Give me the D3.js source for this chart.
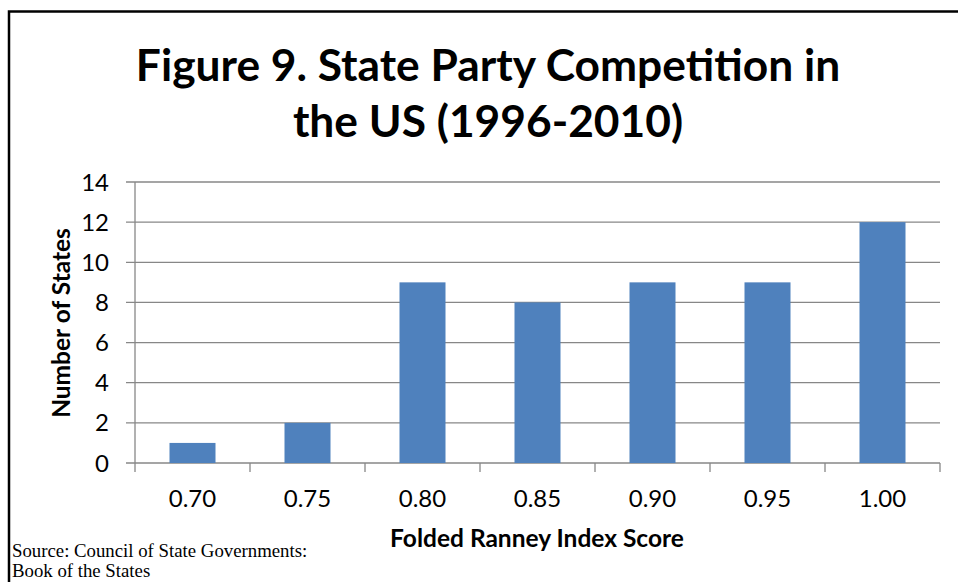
<!DOCTYPE html>
<html><head><meta charset="utf-8">
<script src="https://cdn.jsdelivr.net/npm/d3@7"></script>
<style>body{margin:0;background:#fff}svg{display:block}</style>
</head><body>
<svg id="c" width="958" height="582"></svg>
<script>
const categories = ["0.70","0.75","0.80","0.85","0.90","0.95","1.00"];
const values = [1, 2, 9, 8, 9, 9, 12];
const yTicks = [0, 2, 4, 6, 8, 10, 12, 14];
const titleLines = ["Figure 9. State Party Competition in", "the US (1996-2010)"];
const xTitle = "Folded Ranney Index Score";
const yTitle = "Number of States";
const sourceLines = ["Source: Council of State Governments:", "Book of the States"];

const svg = d3.select("#c");
const F = "Lato, 'Open Sans', sans-serif";

// outer frame
svg.append("path").attr("d","M9,583 V11.5 H958").attr("fill","none").attr("stroke","#000").attr("stroke-width",2.5);

const m = {l:135, r:940, t:182, b:463};
const x = d3.scaleBand().domain(categories).range([m.l, m.r]).paddingInner(0.6).paddingOuter(0.3);
const xb = d3.scaleBand().domain(categories).range([m.l, m.r]);
const y = d3.scaleLinear().domain([0,14]).range([m.b, m.t]);

// gridlines
svg.append("g").selectAll("line").data(yTicks).join("line")
  .attr("x1", m.l-9).attr("x2", m.r).attr("y1", d=>y(d)).attr("y2", d=>y(d))
  .attr("stroke","#878787").attr("stroke-width",1.3);

// bars
svg.append("g").selectAll("rect").data(values).join("rect")
  .attr("x",(d,i)=>x(categories[i])).attr("width",x.bandwidth())
  .attr("y",d=>y(d)).attr("height",d=>y(0)-y(d)).attr("fill","#4F81BD");

// y axis line
svg.append("line").attr("x1",m.l).attr("x2",m.l).attr("y1",m.t).attr("y2",m.b)
  .attr("stroke","#878787").attr("stroke-width",1.3);
// x axis ticks at band boundaries
const bounds = categories.map(c=>xb(c)).concat([m.r]);
svg.append("g").selectAll("line").data(bounds).join("line")
  .attr("x1",d=>d).attr("x2",d=>d).attr("y1",m.b).attr("y2",m.b+9)
  .attr("stroke","#878787").attr("stroke-width",1.3);

// y tick labels
svg.append("g").selectAll("text").data(yTicks).join("text")
  .attr("x", 109).attr("y", d=>y(d)).attr("dy","0.36em").attr("text-anchor","end")
  .attr("font-family",F).attr("font-size",24).attr("fill","#000").text(d=>d);
// x tick labels
svg.append("g").selectAll("text").data(categories).join("text")
  .attr("x", d=>xb(d)+xb.bandwidth()/2).attr("y", 507).attr("text-anchor","middle")
  .attr("font-family",F).attr("font-size",24).attr("fill","#000").text(d=>d);

// axis titles
svg.append("text").attr("x",537).attr("y",547).attr("text-anchor","middle")
  .attr("font-family",F).attr("font-weight","bold").attr("font-size",24.5).text(xTitle);
svg.append("text").attr("transform","translate(70,323) rotate(-90)").attr("text-anchor","middle")
  .attr("font-family",F).attr("font-weight","bold").attr("font-size",24.5).text(yTitle);

// title
svg.append("g").selectAll("text").data(titleLines).join("text")
  .attr("x",488).attr("y",(d,i)=>81+i*56).attr("text-anchor","middle")
  .attr("font-family",F).attr("font-weight","bold").attr("font-size",44.3).text(d=>d);

// source
svg.append("g").selectAll("text").data(sourceLines).join("text")
  .attr("x",12).attr("y",(d,i)=>557+i*19.5)
  .attr("font-family","'Liberation Serif', 'Times New Roman', serif").attr("font-size",18.8).text(d=>d);
</script>
</body></html>
